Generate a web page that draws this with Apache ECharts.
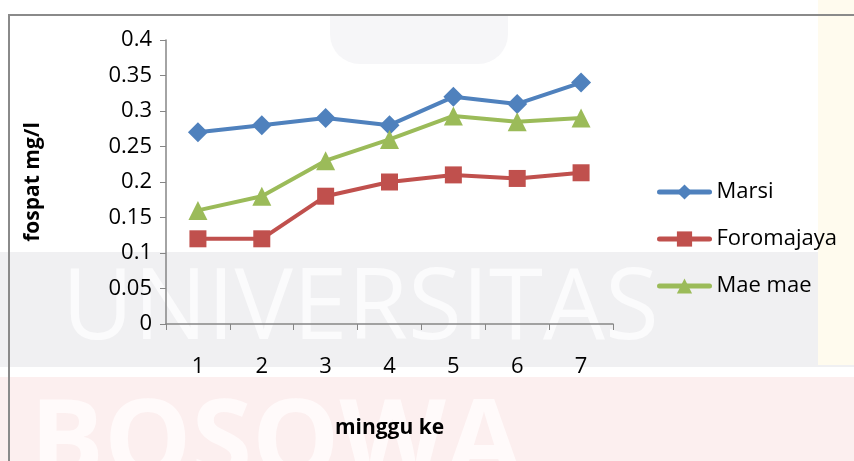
<!DOCTYPE html>
<html><head><meta charset="utf-8">
<script src="https://cdn.jsdelivr.net/npm/echarts@6/dist/echarts.min.js"></script>
<style>html,body{margin:0;padding:0;background:#fff}#c{width:854px;height:461px}</style>
</head><body><div id="c"></div>
<script>
const categories = ['1','2','3','4','5','6','7'];
const marsi = [0.27, 0.28, 0.29, 0.28, 0.32, 0.31, 0.34];
const foromajaya = [0.12, 0.12, 0.18, 0.20, 0.21, 0.205, 0.213];
const maeMae = [0.16, 0.18, 0.23, 0.26, 0.293, 0.285, 0.29];
const seriesNames = ['Marsi', 'Foromajaya', 'Mae mae'];
const yTicks = {min: 0, max: 0.4, interval: 0.05};

const FONT = '"Open Sans", sans-serif';
const chart = echarts.init(document.getElementById('c'), null, {renderer: 'canvas'});
const mk = (name, data, color, symbol, size) => ({
  name, type: 'line', data, symbol, symbolSize: size,
  lineStyle: {color, width: 4, cap: 'round'}, itemStyle: {color},
  z: 5
});
chart.setOption({
  animation: false,
  backgroundColor: '#ffffff',
  graphic: [
    {type: 'rect', z: -10, shape: {x: 0, y: 252, width: 854, height: 115}, style: {fill: '#f0f0f2'}},
    {type: 'rect', z: -10, shape: {x: 0, y: 377, width: 854, height: 84}, style: {fill: '#fcefef'}},
    {type: 'rect', z: -10, shape: {x: 818, y: 0, width: 36, height: 365}, style: {fill: '#fffbee'}},
    {type: 'rect', z: -10, shape: {x: 330, y: 16, width: 178, height: 48, r: [0, 0, 30, 30]}, style: {fill: '#f6f6f8'}},
    {type: 'text', z: -9, style: {x: 62, y: 262, text: 'UNIVERSITAS', font: '400 98px "Open Sans", sans-serif', fill: '#fbfbfc'}},
    {type: 'text', z: -9, style: {x: 30, y: 392, text: 'BOSOWA', font: '700 110px "Open Sans", sans-serif', fill: '#fffafa'}},
    {type: 'polyline', z: -5, shape: {points: [[9, 461], [9, 15], [854, 15]]}, style: {stroke: '#8a8a8a', lineWidth: 2, fill: null}}
  ],
  grid: {left: 166, top: 40, right: 241, bottom: 137, containLabel: false},
  legend: {
    orient: 'vertical', left: 652, top: 176, itemWidth: 50, itemHeight: 19, itemGap: 25,
    lineStyle: {width: 5},
    textStyle: {fontFamily: FONT, fontSize: 22, color: '#000', padding: [0, 0, 0, 2]},
    data: seriesNames
  },
  xAxis: {
    type: 'category', data: categories, boundaryGap: true,
    name: 'minggu ke', nameLocation: 'middle', nameGap: 94,
    nameTextStyle: {fontFamily: FONT, fontSize: 21, fontWeight: 'bold', color: '#000'},
    axisLine: {lineStyle: {color: '#868686', width: 1.5}},
    axisTick: {show: true, length: 6, lineStyle: {color: '#868686'}},
    axisLabel: {margin: 32, fontFamily: FONT, fontSize: 22, color: '#000'}
  },
  yAxis: {
    type: 'value', min: yTicks.min, max: yTicks.max, interval: yTicks.interval,
    name: 'fospat mg/l', nameLocation: 'middle', nameGap: 122, nameRotate: 90,
    nameTextStyle: {fontFamily: FONT, fontSize: 21, fontWeight: 'bold', color: '#000'},
    axisLine: {show: true, lineStyle: {color: '#868686', width: 1.5}},
    axisTick: {show: true, length: 6, lineStyle: {color: '#868686'}},
    splitLine: {show: false},
    axisLabel: {margin: 14, fontFamily: FONT, fontSize: 22, color: '#000', formatter: v => String(+v.toFixed(2))}
  },
  series: [
    mk(seriesNames[0], marsi, '#4f81bd', 'diamond', 20),
    mk(seriesNames[1], foromajaya, '#c0504d', 'rect', 17),
    mk(seriesNames[2], maeMae, '#9bbb59', 'triangle', 19)
  ]
});
</script></body></html>
